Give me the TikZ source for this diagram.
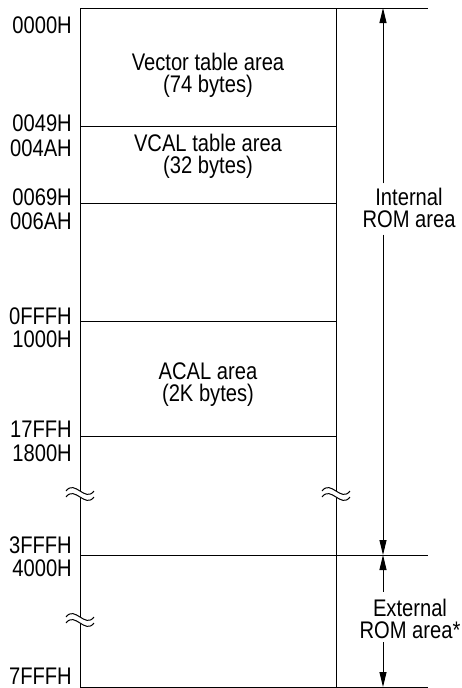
\documentclass[tikz,border=0pt]{standalone}
\usepackage{fontspec}
\setmainfont{Liberation Sans}[FakeStretch=0.84]
\usetikzlibrary{arrows.meta}

\newcommand{\mapfont}{\fontsize{24}{22}\selectfont}
\tikzset{
  addr/.style={anchor=base east, inner sep=0pt, font=\mapfont},
  area/.style={align=center, inner sep=0pt, font=\mapfont},
  dim/.style={line width=0.9pt, -{Triangle[width=7pt,length=15pt]}},
  brk/.pic={
    \fill[white] (-14,-3) .. controls (-5,-15) and (5,9) .. (14,-3)
      -- (14,3) .. controls (5,15) and (-5,-9) .. (-14,3) -- cycle;
    \draw[line width=1pt] (-14,-3) .. controls (-5,-15) and (5,9) .. (14,-3);
    \draw[line width=1pt] (-14,3) .. controls (-5,-9) and (5,15) .. (14,3);
  }
}

\begin{document}
\begin{tikzpicture}[x=1pt,y=-1pt]
  \useasboundingbox (0,0) rectangle (461,688);

  \draw[line width=0.9pt] (80,8) -- (80,687);
  \draw[line width=0.9pt] (336,8) -- (336,687);
  \draw[line width=0.9pt] (80,8) -- (428,8);
  \draw[line width=0.9pt] (80,555) -- (428,555);
  \draw[line width=0.9pt] (80,687) -- (428,687);
  \foreach \y in {126,203,321,436}
    \draw[line width=0.9pt] (80,\y) -- (336,\y);

  \foreach \y/\t in {33/0000H, 131/0049H, 156/004AH, 205/0069H, 229/006AH,
                     324/0FFFH, 347/1000H, 437/17FFH, 461/1800H,
                     553/3FFFH, 576/4000H, 684/7FFFH}
    \node[addr] (a\t) at (72,\y) {\t};

  \node[area] (vect) at (208,75) {Vector table area\\(74 bytes)};
  \node[area] (vcal) at (208,156) {VCAL table area\\(32 bytes)};
  \node[area] (acal) at (208,385) {ACAL area\\(2K bytes)};

  \pic at (80,494) {brk};
  \pic at (336,494) {brk};
  \pic at (80,620) {brk};

  \coordinate (romtop) at (383,8);
  \coordinate (rommid) at (383,555);
  \coordinate (rombot) at (383,687);
  \node[area] (introm) at (409,207.5) {Internal\\ROM area};
  \node[area] (extrom) at (410,619) {External\\ROM area*};

  \draw[dim, shorten <=4pt] (introm.north -| romtop) -- (romtop);
  \draw[dim, shorten <=7pt] (introm.south -| rommid) -- (rommid);
  \draw[dim, shorten <=7pt] (extrom.north -| rommid) -- (rommid);
  \draw[dim, shorten <=3pt] (extrom.south -| rombot) -- (rombot);
\end{tikzpicture}
\end{document}
